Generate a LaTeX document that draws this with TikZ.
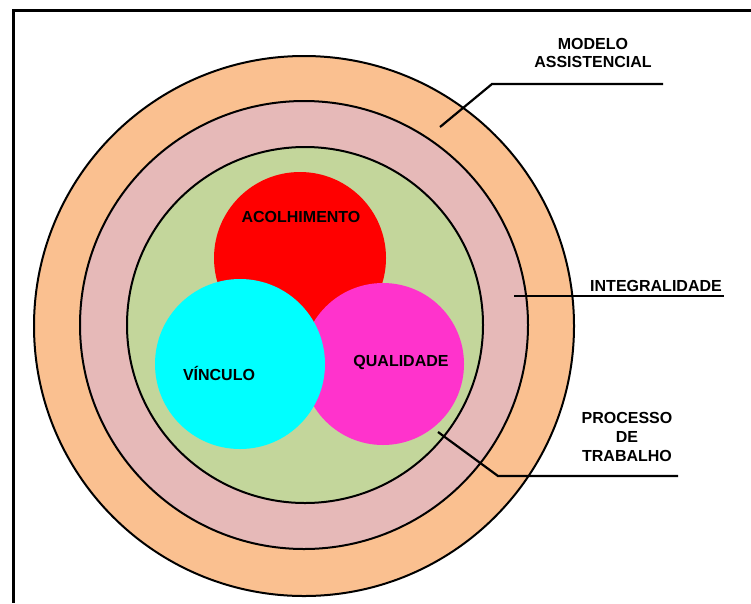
\documentclass[tikz,border=0pt]{standalone}
\usepackage{fontspec}
\setmainfont{Liberation Sans}
\definecolor{peach}{HTML}{FAC090}
\definecolor{rose}{HTML}{E6B9B8}
\definecolor{sage}{HTML}{C3D69B}
\definecolor{hotred}{HTML}{FF0000}
\definecolor{aqua}{HTML}{00FFFF}
\definecolor{pinkish}{HTML}{FF33CC}
\begin{document}
\begin{tikzpicture}[x=1pt,y=-1pt,
  ring/.style={circle, draw=black, line width=2pt, inner sep=0pt},
  blob/.style={circle, inner sep=0pt},
  lbl/.style={font=\bfseries\fontsize{16}{18}\selectfont, inner sep=0pt, align=center},
  leader/.style={line width=2.2pt}]
\useasboundingbox (0,0) rectangle (751,603);
\fill[white] (0,0) rectangle (751,603);

% frame along the top and left edges
\draw[line width=3pt] (751,10.5) -- (13,10.5) -- (13,603);

% concentric rings
\node[ring, fill=peach, minimum size=540pt] (modelo) at (304,326) {};
\node[ring, fill=rose, minimum size=448pt] (integ) at (304,325) {};
\node[ring, fill=sage, minimum size=356pt] (proc) at (305,325) {};

% three overlapping discs
\node[blob, fill=hotred, minimum size=172pt] (acolh) at (300,258) {};
\node[blob, fill=pinkish, minimum size=162pt] (qual) at (383,364) {};
\node[blob, fill=aqua, minimum size=170pt] (vinc) at (240,364) {};

% disc labels
\node[lbl, anchor=base] (tAcolh) at (301,222) {ACOLHIMENTO};
\node[lbl, anchor=base] (tVinc) at (219,380) {VÍNCULO};
\node[lbl, anchor=base] (tQual) at (401,366) {QUALIDADE};

% ring labels
\node[lbl, anchor=north] (tModelo) at (593,38) {MODELO\\ASSISTENCIAL};
\node[lbl, anchor=base] (tInteg) at (656,291) {INTEGRALIDADE};
\node[lbl, anchor=north, font=\bfseries\fontsize{16}{19}\selectfont] (tProc) at (627,412) {PROCESSO\\DE\\TRABALHO};

% leader lines
\coordinate (mA) at (440,127);
\coordinate (mB) at (492,84);
\coordinate (mC) at (663,84);
\draw[leader] (mA) -- (mB) -- (mC);

\coordinate (iA) at (514,296);
\coordinate (iB) at (724,296);
\draw[leader] (iA) -- (iB);

\coordinate (pA) at (438,432);
\coordinate (pB) at (498,476);
\coordinate (pC) at (678,476);
\draw[leader] (pA) -- (pB) -- (pC);
\end{tikzpicture}
\end{document}
